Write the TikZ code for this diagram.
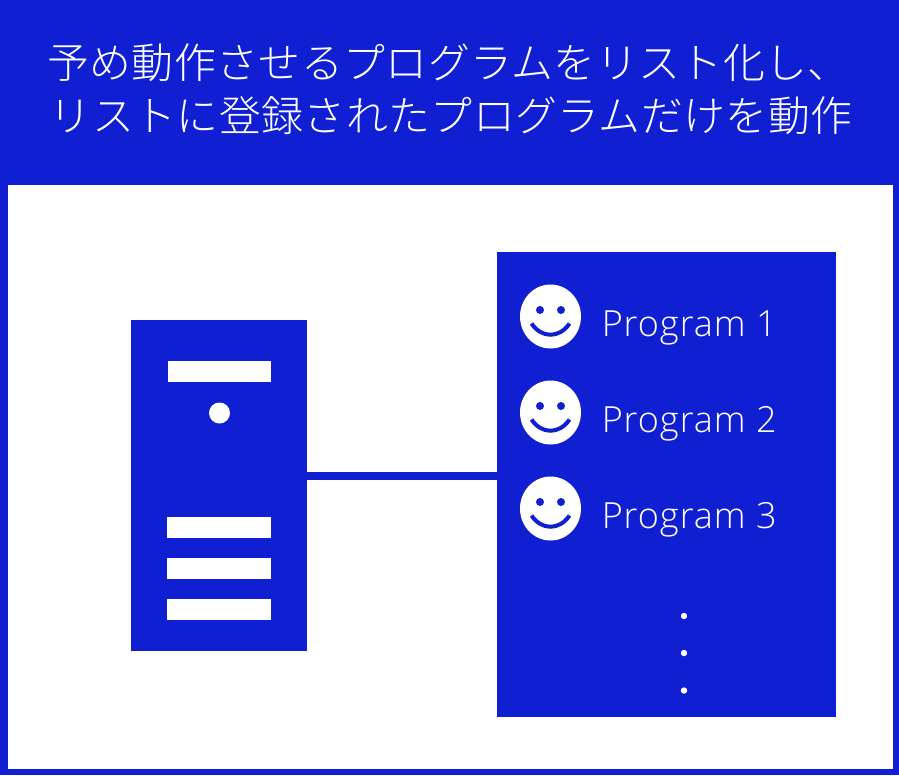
\documentclass[tikz,border=0pt]{standalone}
\usepackage{fontspec}
\usetikzlibrary{shapes.geometric}
\newfontfamily\cjk[LetterSpace=1.1]{Noto Sans CJK JP Light}
\newfontfamily\latn[LetterSpace=2.6]{Open Sans Light}
\definecolor{brand}{HTML}{101FD2}
\tikzset{
 x=0.75pt,y=-0.75pt,
 solid box/.style={fill=brand,draw=none,inner sep=0,outer sep=0,anchor=north west},
 slot/.style={fill=white,draw=none,inner sep=0,outer sep=0,anchor=north west},
 face/.style={ellipse,fill=white,draw=none,minimum width=45.75pt,minimum height=48pt,inner sep=0,outer sep=0},
 heading/.style={text=white,inner sep=0,font=\cjk\fontsize{31.4pt}{38pt}\selectfont},
 proglabel/.style={text=white,inner sep=0,anchor=base west,font=\latn\fontsize{27pt}{32pt}\selectfont},
 link/.style={draw=brand,line width=6pt},
 ddot/.style={circle,fill=white,draw=none,minimum size=4.8pt,inner sep=0},
}
\newcommand{\smiley}[3]{%
 \node[face] (#1) at (#2,#3) {};
 \fill[brand] (#2-10.5,#3-6.5) circle (4);
 \fill[brand] (#2+10.5,#3-6.5) circle (4);
 \draw[brand,line width=3pt] (#2-19,#3+7) .. controls (#2-9,#3+22) and (#2+9,#3+22) .. (#2+19,#3+7);
}
\begin{document}
\begin{tikzpicture}
\useasboundingbox (0,0) rectangle (899,775);
\fill[brand] (0,0) rectangle (899,775);
\fill[white] (8,184.5) rectangle (893,769);
\node[heading,anchor=base west] (l1) at (47,78) {予め動作させるプログラムをリスト化し、};
\node[heading,anchor=base west] (l2) at (49.5,131) {リストに登録されたプログラムだけを動作};
\node[solid box,minimum width=132pt,minimum height=248.25pt] (server) at (131,320) {};
\node[solid box,minimum width=254.25pt,minimum height=348.75pt] (list) at (497,252) {};
\draw[link] (server.east |- 0,476) -- (list.west |- 0,476);
\node[slot,minimum width=77.25pt,minimum height=15.75pt] (s0) at (168,361) {};
\node[circle,fill=white,minimum size=15.75pt,inner sep=0] (led) at (219.5,413) {};
\node[slot,minimum width=78pt,minimum height=15.75pt] (s1) at (167,517) {};
\node[slot,minimum width=78pt,minimum height=15.75pt] (s2) at (167,558) {};
\node[slot,minimum width=78pt,minimum height=15.75pt] (s3) at (167,599) {};
\smiley{f1}{550.5}{316.5}
\smiley{f2}{550.5}{412.5}
\smiley{f3}{550.5}{508.5}
\node[proglabel] (p1) at (601.5,336) {Program 1};
\node[proglabel] (p2) at (601.5,432) {Program 2};
\node[proglabel] (p3) at (601.5,528) {Program 3};
\node[ddot] (d1) at (684,616) {};
\node[ddot] (d2) at (684,653) {};
\node[ddot] (d3) at (684,690.5) {};
\end{tikzpicture}
\end{document}
